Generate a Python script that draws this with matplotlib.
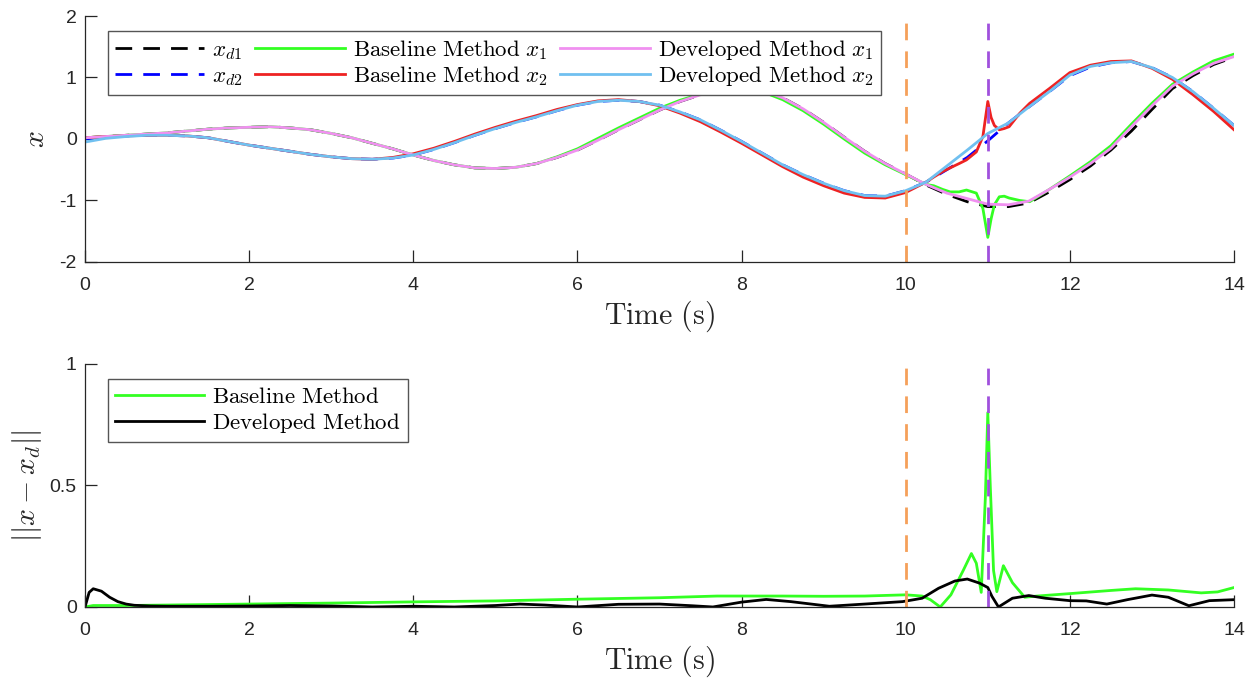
import numpy as np
import matplotlib
matplotlib.use("Agg")
import matplotlib.pyplot as plt

plt.rcParams['mathtext.fontset'] = 'cm'
plt.rcParams['font.family'] = ['Liberation Sans', 'DejaVu Sans']
plt.rcParams['axes.unicode_minus'] = False

# ---------------- data ----------------
t_grid = [0, .25, .5, .75, 1, 1.25, 1.5, 1.75, 2, 2.25, 2.5, 2.75, 3, 3.25, 3.5, 3.75,
          4, 4.25, 4.5, 4.75, 5, 5.25, 5.5, 5.75, 6, 6.25, 6.5, 6.75, 7, 7.25, 7.5, 7.75,
          8, 8.25, 8.5, 8.75, 9, 9.25, 9.5, 9.75, 10, 10.25, 10.5, 10.75, 11, 11.25, 11.5,
          11.75, 12, 12.25, 12.5, 12.75, 13, 13.25, 13.5, 13.75, 14]

xd1 = [0.02, 0.04, 0.06, 0.08, 0.10, 0.13, 0.16, 0.18, 0.19, 0.20, 0.18, 0.15, 0.09, 0.02,
       -0.07, -0.16, -0.26, -0.35, -0.42, -0.47, -0.48, -0.46, -0.40, -0.30, -0.18, -0.02,
       0.15, 0.31, 0.47, 0.61, 0.72, 0.80, 0.83, 0.79, 0.67, 0.49, 0.27, 0.03, -0.20, -0.40,
       -0.57, -0.75, -0.90, -1.02, -1.10, -1.10, -1.04, -0.86, -0.66, -0.44, -0.18, 0.13,
       0.48, 0.82, 1.03, 1.21, 1.33]

xd2 = [0.00, 0.03, 0.05, 0.06, 0.06, 0.05, 0.02, -0.04, -0.10, -0.15, -0.20, -0.25, -0.29,
       -0.32, -0.33, -0.31, -0.26, -0.17, -0.06, 0.06, 0.17, 0.27, 0.36, 0.46, 0.55, 0.61,
       0.63, 0.61, 0.55, 0.44, 0.31, 0.14, -0.04, -0.23, -0.42, -0.58, -0.72, -0.84, -0.92,
       -0.93, -0.84, -0.70, -0.50, -0.30, -0.03, 0.26, 0.52, 0.77, 1.03, 1.17, 1.24, 1.26,
       1.16, 1.00, 0.77, 0.50, 0.22]

dev_x1 = [0.02, 0.04, 0.06, 0.08, 0.10, 0.13, 0.16, 0.18, 0.19, 0.20, 0.18, 0.15, 0.09, 0.02,
          -0.07, -0.16, -0.26, -0.35, -0.42, -0.47, -0.48, -0.46, -0.40, -0.30, -0.18, -0.02,
          0.15, 0.31, 0.47, 0.61, 0.72, 0.80, 0.83, 0.79, 0.67, 0.49, 0.27, 0.03, -0.20, -0.40,
          -0.57, -0.74, -0.88, -0.97, -1.06, -1.07, -1.01, -0.82, -0.62, -0.40, -0.15, 0.20,
          0.54, 0.86, 1.06, 1.23, 1.34]

dev_x2 = [-0.05, 0.01, 0.04, 0.06, 0.06, 0.05, 0.02, -0.04, -0.10, -0.15, -0.20, -0.25, -0.29,
          -0.32, -0.33, -0.31, -0.26, -0.17, -0.06, 0.06, 0.17, 0.27, 0.36, 0.46, 0.55, 0.61,
          0.63, 0.61, 0.55, 0.44, 0.31, 0.14, -0.04, -0.23, -0.42, -0.58, -0.72, -0.84, -0.92,
          -0.93, -0.84, -0.70, -0.44, -0.18, 0.09, 0.26, 0.52, 0.77, 1.04, 1.18, 1.24, 1.26,
          1.16, 1.00, 0.77, 0.50, 0.22]

t_base = [0, .25, .5, .75, 1, 1.25, 1.5, 1.75, 2, 2.25, 2.5, 2.75, 3, 3.25, 3.5, 3.75,
          4, 4.25, 4.5, 4.75, 5, 5.25, 5.5, 5.75, 6, 6.25, 6.5, 6.75, 7, 7.25, 7.5, 7.75,
          8, 8.25, 8.5, 8.75, 9, 9.25, 9.5, 9.75, 10, 10.25, 10.34, 10.45, 10.54, 10.65, 10.74,
          10.86, 10.94, 11.0, 11.04, 11.08, 11.14, 11.2, 11.26, 11.39, 11.51, 11.75, 12, 12.25,
          12.5, 12.75, 13, 13.25, 13.5, 13.75, 14]

base_x1 = [0.02, 0.04, 0.06, 0.08, 0.10, 0.13, 0.16, 0.18, 0.19, 0.20, 0.18, 0.15, 0.09, 0.02,
           -0.07, -0.16, -0.26, -0.35, -0.42, -0.47, -0.48, -0.46, -0.40, -0.29, -0.16, 0.01,
           0.18, 0.34, 0.50, 0.63, 0.73, 0.80, 0.82, 0.77, 0.64, 0.46, 0.24, 0.00, -0.23, -0.42,
           -0.58, -0.74, -0.76, -0.82, -0.86, -0.86, -0.83, -0.88, -1.13, -1.60, -1.30, -1.07,
           -0.94, -0.93, -0.96, -1.00, -1.02, -0.82, -0.60, -0.37, -0.11, 0.24, 0.58, 0.89,
           1.09, 1.27, 1.38]

base_x2 = [0.02, 0.04, 0.05, 0.06, 0.06, 0.05, 0.02, -0.04, -0.10, -0.15, -0.20, -0.25, -0.29,
           -0.32, -0.33, -0.30, -0.24, -0.15, -0.04, 0.08, 0.19, 0.29, 0.38, 0.48, 0.56, 0.62,
           0.64, 0.61, 0.54, 0.42, 0.28, 0.11, -0.07, -0.26, -0.45, -0.62, -0.76, -0.88, -0.95,
           -0.96, -0.87, -0.70, -0.62, -0.53, -0.47, -0.40, -0.34, -0.21, 0.04, 0.61, 0.35,
           0.22, 0.15, 0.17, 0.20, 0.42, 0.58, 0.82, 1.08, 1.20, 1.26, 1.27, 1.15, 0.97, 0.72,
           0.45, 0.15]

t_err_base = [0, 0.1, 0.5, 1, 2, 3, 4, 5, 6, 7, 7.7, 8.5, 9, 9.5, 10, 10.2, 10.3, 10.42,
              10.55, 10.7, 10.8, 10.86, 10.92, 10.97, 11.0, 11.03, 11.07, 11.11, 11.19, 11.3,
              11.45, 11.6, 12, 12.5, 12.8, 13.2, 13.6, 13.8, 14]
err_base = [0.0, 0.006, 0.006, 0.008, 0.012, 0.016, 0.021, 0.025, 0.032, 0.038, 0.045, 0.045,
            0.044, 0.045, 0.050, 0.045, 0.030, 0.000, 0.050, 0.150, 0.220, 0.180, 0.060, 0.450,
            0.800, 0.500, 0.150, 0.063, 0.170, 0.100, 0.040, 0.045, 0.055, 0.068, 0.075,
            0.070, 0.058, 0.062, 0.080]

t_err_dev = [0, 0.05, 0.1, 0.2, 0.3, 0.4, 0.5, 0.6, 0.8, 1, 1.5, 2, 2.5, 3, 3.5, 4, 4.5, 5,
             5.3, 5.6, 6, 6.5, 7, 7.4, 7.65, 8, 8.3, 8.6, 9.07, 9.5, 9.96, 10.1, 10.2, 10.4,
             10.6, 10.75, 10.9, 11.0, 11.05, 11.13, 11.3, 11.5, 11.7, 12, 12.2, 12.45, 12.7,
             13, 13.2, 13.45, 13.7, 14]
err_dev = [0.0, 0.060, 0.075, 0.065, 0.040, 0.022, 0.012, 0.007, 0.004, 0.003, 0.003, 0.004,
           0.006, 0.004, 0.000, 0.003, 0.000, 0.006, 0.012, 0.008, 0.000, 0.011, 0.012, 0.005,
           0.000, 0.020, 0.031, 0.022, 0.003, 0.012, 0.022, 0.030, 0.036, 0.077, 0.107, 0.115,
           0.098, 0.080, 0.044, 0.000, 0.036, 0.047, 0.036, 0.026, 0.025, 0.012, 0.030, 0.049,
           0.040, 0.005, 0.026, 0.030]

event_times = [10, 11]
x_ticks = [0, 2, 4, 6, 8, 10, 12, 14]
top_yticks = [-2, -1, 0, 1, 2]
bot_yticks = [0, 0.5, 1]
bot_yticklabels = ['0', '0.5', '1']

# ---------------- styling ----------------
C_GREEN = '#33FF22'
C_RED = '#EE2222'
C_PINK = '#F090F0'
C_LBLUE = '#70C0F0'
C_ORANGE = '#F5A05A'
C_PURPLE = '#A050DD'
AX_COL = '#262626'
LW = 2.0
DASH = (6, 4)
LABEL_FS = 21.5
LEG_FS = 16.5

fig = plt.figure(figsize=(12.56, 6.81), dpi=100)
ax1 = fig.add_axes([0.0677, 0.6153, 0.9148, 0.3612])
ax2 = fig.add_axes([0.0677, 0.1087, 0.9148, 0.3568])

def style(ax, yticks, ylim):
    ax.set_xlim(0, 14)
    ax.set_ylim(*ylim)
    ax.set_xticks(x_ticks)
    ax.set_yticks(yticks)
    for s in ['top', 'right']:
        ax.spines[s].set_visible(False)
    for s in ['left', 'bottom']:
        ax.spines[s].set_color(AX_COL)
        ax.spines[s].set_linewidth(0.9)
    ax.tick_params(direction='in', length=8.5, width=0.9, color=AX_COL,
                   labelcolor=AX_COL, labelsize=14)
    ax.tick_params(axis='x', pad=11)
    ax.tick_params(axis='y', pad=6)

leg_kw = dict(loc='upper left', bbox_to_anchor=(0.02, 0.94), fontsize=LEG_FS,
              frameon=True, fancybox=False, edgecolor='#555555', framealpha=1,
              handlelength=3.9, handletextpad=0.35, borderpad=0.3,
              labelspacing=0.12, borderaxespad=0)

# top panel
ax1.plot(t_grid, xd1, color='black', lw=LW, dashes=DASH, label=r'$x_{d1}$')
ax1.plot(t_grid, xd2, color='#0000FF', lw=LW, dashes=DASH, label=r'$x_{d2}$')
ax1.plot(t_base, base_x1, color=C_GREEN, lw=LW, label=r'$\mathrm{Baseline\ Method}\ x_1$')
ax1.plot(t_base, base_x2, color=C_RED, lw=LW, label=r'$\mathrm{Baseline\ Method}\ x_2$')
ax1.plot(t_grid, dev_x1, color=C_PINK, lw=LW, label=r'$\mathrm{Developed\ Method}\ x_1$')
ax1.plot(t_grid, dev_x2, color=C_LBLUE, lw=LW, label=r'$\mathrm{Developed\ Method}\ x_2$')
for tv, c in zip(event_times, [C_ORANGE, C_PURPLE]):
    ax1.axvline(tv, color=c, lw=LW, dashes=DASH)
style(ax1, top_yticks, (-2, 2))
ax1.set_xlabel(r'$\mathrm{Time\ (s)}$', fontsize=LABEL_FS, color=AX_COL, labelpad=3)
ax1.set_ylabel(r'$x$', fontsize=LABEL_FS, color=AX_COL, labelpad=7)
leg1 = ax1.legend(ncol=3, columnspacing=0.55, **leg_kw)
leg1.get_frame().set_linewidth(1.0)

# bottom panel
ax2.plot(t_err_base, err_base, color=C_GREEN, lw=LW, label=r'$\mathrm{Baseline\ Method}$')
ax2.plot(t_err_dev, err_dev, color='black', lw=LW, label=r'$\mathrm{Developed\ Method}$')
for tv, c in zip(event_times, [C_ORANGE, C_PURPLE]):
    ax2.axvline(tv, color=c, lw=LW, dashes=DASH)
style(ax2, bot_yticks, (0, 1))
ax2.set_yticklabels(bot_yticklabels)
ax2.set_xlabel(r'$\mathrm{Time\ (s)}$', fontsize=LABEL_FS, color=AX_COL, labelpad=3)
ax2.set_ylabel(r'$||x-x_d||$', fontsize=LABEL_FS, color=AX_COL, labelpad=4)
leg2 = ax2.legend(**leg_kw)
leg2.get_frame().set_linewidth(1.0)

fig.savefig('out.png', dpi=100)
